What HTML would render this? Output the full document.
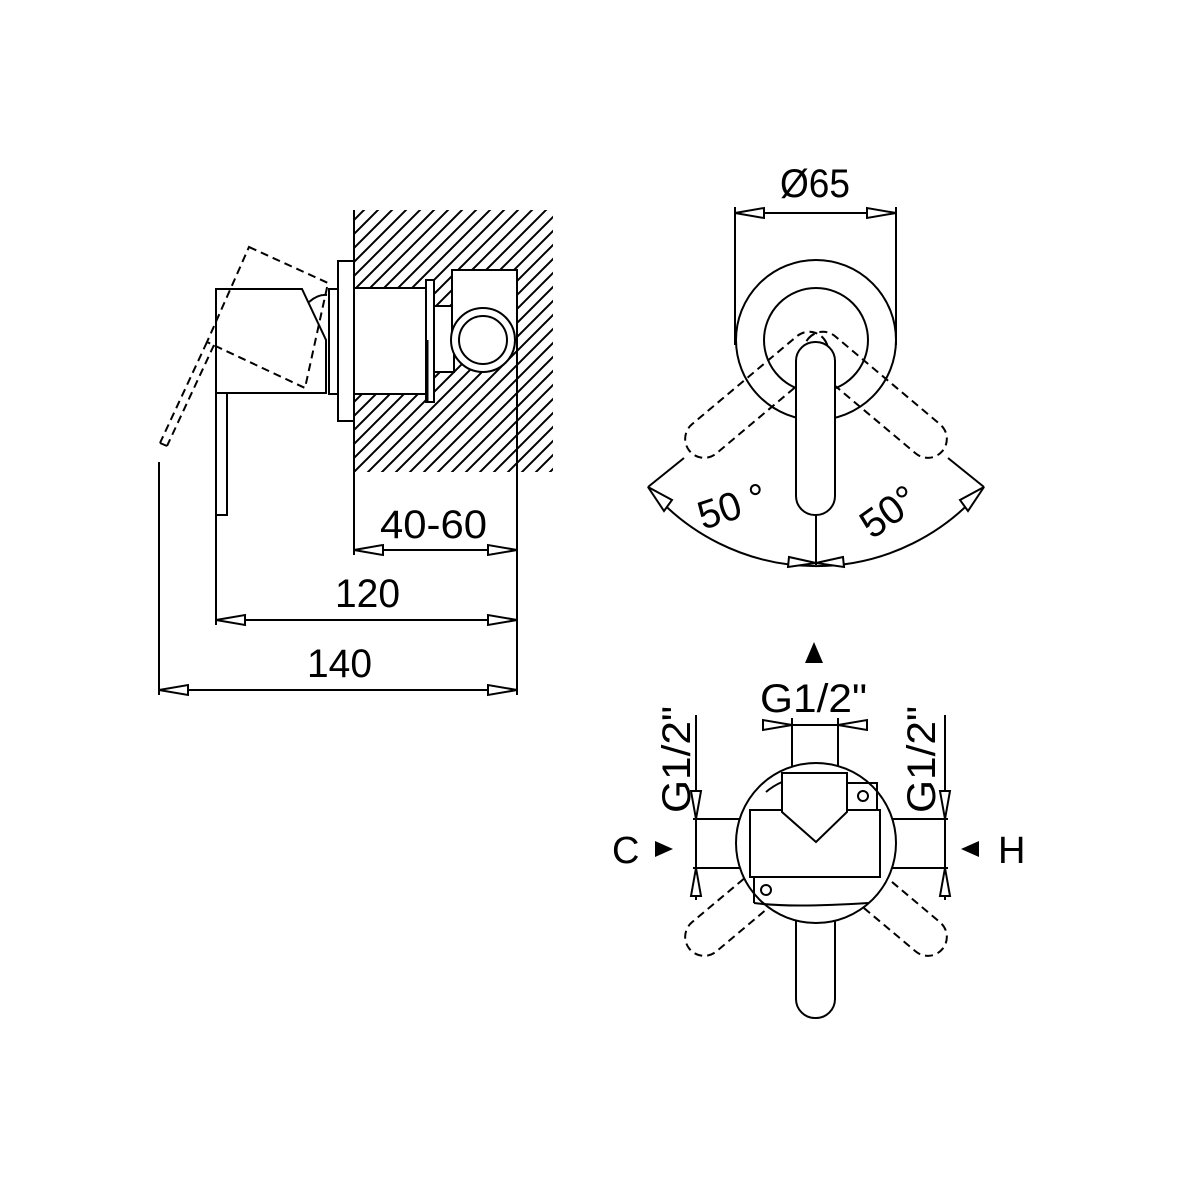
<!DOCTYPE html>
<html><head><meta charset="utf-8"><style>html,body{margin:0;padding:0;background:#fff}svg{display:block}text{font-family:"Liberation Sans Narrow","Liberation Sans",sans-serif;fill:#000}</style></head>
<body>
<svg width="1181" height="1181" viewBox="0 0 1181 1181" xmlns="http://www.w3.org/2000/svg">
<defs>
<pattern id="h" patternUnits="userSpaceOnUse" width="14" height="14">
<path d="M0,14 L14,0 M-3.5,3.5 L3.5,-3.5 M10.5,17.5 L17.5,10.5" stroke="#000" stroke-width="2"/>
</pattern>
</defs>
<g fill="none" stroke="#000" stroke-width="2">
<!-- SIDE VIEW -->
<rect x="354" y="210" width="199" height="262" fill="url(#h)" stroke="none"/>
<rect x="354" y="288" width="72" height="106" fill="#fff" stroke="none"/>
<rect x="426" y="280" width="8" height="122" fill="#fff"/>
<rect x="434" y="306" width="20" height="66" fill="#fff"/>
<rect x="452" y="270" width="65" height="70" fill="#fff"/>
<polygon points="483,306 515,340 483,374 451,340" fill="#fff" stroke="none"/>
<circle cx="483" cy="340" r="32" fill="#fff"/>
<circle cx="483" cy="340" r="24"/>
<line x1="354" y1="288" x2="426" y2="288"/><line x1="354" y1="394" x2="426" y2="394"/>
<line x1="427" y1="340" x2="427" y2="402" stroke-width="3"/>
<line x1="354" y1="210" x2="354" y2="555"/>
<line x1="517" y1="270" x2="517" y2="695"/>
<rect x="338" y="261" width="16" height="160" fill="#fff"/>
<rect x="329" y="289" width="9" height="105" fill="#fff"/>
<polygon points="216,289 302,289 326,340 326,393 216,393" fill="#fff"/>
<path d="M309,302 Q318,294 327,295"/>
<rect x="216" y="393" width="11" height="122" fill="#fff"/>
<g stroke-dasharray="8,5">
<polygon points="249,247 328,283 305,388 207,342"/>
<line x1="207" y1="342" x2="160" y2="443"/>
<line x1="214" y1="345" x2="167" y2="446"/>
<line x1="160" y1="443" x2="167" y2="446"/>
</g>
<line x1="159" y1="462" x2="159" y2="695"/>
<line x1="216" y1="515" x2="216" y2="625"/>
<!-- dims -->
<line x1="354" y1="550" x2="517" y2="550"/>
<polygon points="354,550 383,545 383,555" fill="#fff"/><polygon points="517,550 488,545 488,555" fill="#fff"/>
<line x1="216" y1="620" x2="517" y2="620"/>
<polygon points="216,620 245,615 245,625" fill="#fff"/><polygon points="517,620 488,615 488,625" fill="#fff"/>
<line x1="159" y1="690" x2="517" y2="690"/>
<polygon points="159,690 188,685 188,695" fill="#fff"/><polygon points="517,690 488,685 488,695" fill="#fff"/>

<!-- TOP RIGHT VIEW -->
<line x1="735" y1="207" x2="735" y2="345"/><line x1="896" y1="207" x2="896" y2="345"/>
<line x1="735" y1="213" x2="896" y2="213"/>
<polygon points="735,213 764,208 764,218" fill="#fff"/><polygon points="896,213 867,208 867,218" fill="#fff"/>
<circle cx="816" cy="340" r="80"/>
<circle cx="816" cy="340" r="52"/>
<g stroke-dasharray="8,5">
<rect x="797" y="335" width="38" height="175" rx="19" transform="rotate(50 816 345)"/>
<rect x="797" y="335" width="38" height="175" rx="19" transform="rotate(-50 816 345)"/>
</g>
<rect x="796" y="342" width="39" height="173" rx="19" fill="#fff"/>
<line x1="816" y1="515" x2="816" y2="565"/>
<line x1="684" y1="458" x2="648" y2="487"/><line x1="948" y1="458" x2="984" y2="487"/>
<path d="M648,487 A218,218 0 0 0 984,487"/>
<polygon points="648,487 672,500 664,511" fill="#fff"/>
<polygon points="984,487 968,511 960,500" fill="#fff"/>
<polygon points="816,563 789,557 788,567" fill="#fff"/>
<polygon points="816,563 843,557 844,567" fill="#fff"/>

<!-- BOTTOM VIEW -->
<line x1="792" y1="718" x2="792" y2="775"/><line x1="838" y1="718" x2="838" y2="775"/>
<line x1="792" y1="725" x2="838" y2="725"/>
<polygon points="792,725 763,720 763,730" fill="#fff"/><polygon points="838,725 867,720 867,730" fill="#fff"/>
<line x1="696" y1="715" x2="696" y2="900"/><line x1="945" y1="715" x2="945" y2="900"/>
<polygon points="696,819 691,791 701,791" fill="#fff"/><polygon points="696,868 691,896 701,896" fill="#fff"/>
<polygon points="945,819 940,791 950,791" fill="#fff"/><polygon points="945,868 940,896 950,896" fill="#fff"/>
<line x1="693" y1="819" x2="747" y2="819"/><line x1="693" y1="868" x2="747" y2="868"/>
<line x1="882" y1="819" x2="948" y2="819"/><line x1="882" y1="868" x2="948" y2="868"/>
<g stroke-dasharray="8,5">
<rect x="797" y="833" width="38" height="175" rx="19" transform="rotate(50 816 843)"/>
<rect x="797" y="833" width="38" height="175" rx="19" transform="rotate(-50 816 843)"/>
</g>
<rect x="796" y="880" width="39" height="138" rx="19" fill="#fff"/>
<circle cx="816" cy="843" r="80" fill="#fff"/>
<path d="M766,792 A63,63 0 0 1 782,782"/>
<path d="M754,903 Q790,908 868,903"/>
<line x1="754" y1="877" x2="754" y2="903"/>
<circle cx="766" cy="890" r="5"/>
<rect x="847" y="783" width="30" height="29"/>
<circle cx="863" cy="796" r="5"/>
<rect x="750" y="810" width="130" height="67" fill="#fff"/>
<path d="M782,812 L782,773 L847,773 L847,812 L816,842 Z" fill="#fff"/>
</g>
<g fill="#000">
<polygon points="814,642 823,663 805,663"/>
<polygon points="673,849 655,841 655,857"/>
<polygon points="961,849 979,841 979,857"/>
</g>
<g font-size="40">
<text x="380" y="538" textLength="107" lengthAdjust="spacingAndGlyphs">40-60</text>
<text x="335" y="607" textLength="65" lengthAdjust="spacingAndGlyphs">120</text>
<text x="307" y="677" textLength="65" lengthAdjust="spacingAndGlyphs">140</text>
<text x="780" y="197" textLength="70" lengthAdjust="spacingAndGlyphs">Ø65</text>
<text x="760" y="712" textLength="107" lengthAdjust="spacingAndGlyphs">G1/2"</text>
<text transform="translate(690,813) rotate(-90)" textLength="107" lengthAdjust="spacingAndGlyphs">G1/2"</text>
<text transform="translate(935,813) rotate(-90)" textLength="107" lengthAdjust="spacingAndGlyphs">G1/2"</text>
<text transform="translate(703,530) rotate(-18)" textLength="70" lengthAdjust="spacingAndGlyphs">50 °</text>
<text transform="translate(872,540) rotate(-35)" textLength="60" lengthAdjust="spacingAndGlyphs">50°</text>
</g>
<g font-size="38" style="font-family:'Liberation Sans',sans-serif">
<text x="612" y="863">C</text>
<text x="998" y="863">H</text>
</g>
</svg>
</body></html>
